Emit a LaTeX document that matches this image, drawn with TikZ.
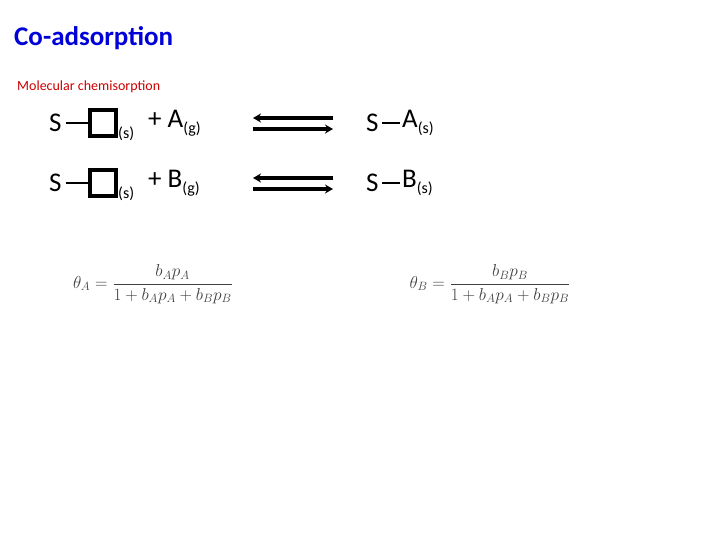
\documentclass[tikz,border=0pt]{standalone}
\usepackage{fontspec}
\setmainfont{Carlito}
\usetikzlibrary{arrows.meta}
\begin{document}
\begin{tikzpicture}[x=1pt,y=-1pt,
  txt/.style={anchor=west,inner sep=0pt,font=\fontsize{27}{29}\selectfont},
  sub/.style={anchor=west,inner sep=0pt,font=\fontsize{16}{18}\selectfont},
  bond/.style={line width=2.8pt},
  site/.style={draw,line width=3.2pt,minimum width=26pt,minimum height=26pt,inner sep=0pt},
  eqm/.style={line width=3.2pt,-{Stealth[length=8pt,width=9pt]}},
  formula/.style={inner sep=0pt,text=black!75,font=\fontsize{18}{20}\selectfont}]
\useasboundingbox (0,0) rectangle (720,540);
\node[anchor=west,inner sep=0pt,text=blue!85!black,font=\bfseries\fontsize{27}{29}\selectfont] (title) at (14,38) {Co-adsorption};
\node[anchor=west,inner sep=0pt,text=red!80!black,font=\fontsize{14}{16}\selectfont] (sub) at (17,87) {Molecular chemisorption};
\foreach \yy/\L/\n in {123/A/a,183/B/b}{
  \node[txt] (s\n) at (49,\yy) {S};
  \node[site] (box\n) at (103,\yy) {};
  \draw[bond] (s\n.east) ++(4,0) -- (box\n.west);
  \node[sub] (ss\n) at (118,\yy+11) {(s)};
  \node[txt] (p\n) at (148,\yy) {+ \L\raisebox{-6pt}{\fontsize{16}{18}\selectfont(g)}};
  \coordinate (l\n) at (253,\yy-5);
  \coordinate (r\n) at (333,\yy-5);
  \coordinate (l2\n) at (253,\yy+6);
  \coordinate (r2\n) at (333,\yy+6);
  \draw[eqm] (r\n) -- (l\n);
  \draw[eqm] (l2\n) -- (r2\n);
  \node[txt] (t\n) at (366,\yy) {S};
  \node[txt] (u\n) at (402,\yy) {\L\raisebox{-6pt}{\fontsize{16}{18}\selectfont(s)}};
  \draw[bond] (t\n.east) ++(3,0) -- ([xshift=-2pt]u\n.west);
}
\node[formula] (fa) at (153,284) {$\theta_A=\displaystyle\frac{b_Ap_A}{1+b_Ap_A+b_Bp_B}$};
\node[formula] (fb) at (490,284) {$\theta_B=\displaystyle\frac{b_Bp_B}{1+b_Ap_A+b_Bp_B}$};
\end{tikzpicture}
\end{document}
